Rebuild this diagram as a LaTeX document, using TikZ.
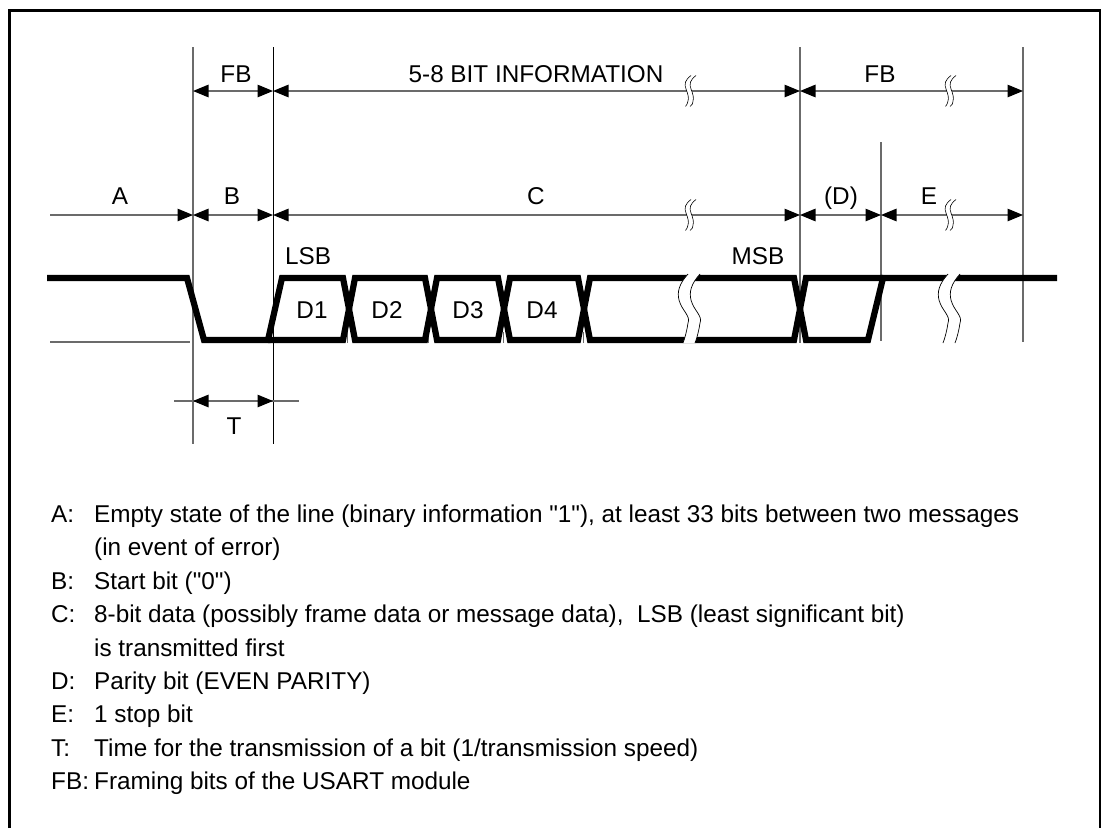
\documentclass[tikz,border=0pt]{standalone}
\usepackage{fontspec}
\setmainfont{Liberation Sans}[Ligatures=TeXOff]
\usetikzlibrary{arrows.meta}
\definecolor{dimgray}{gray}{0.42}
\tikzset{
  tipb/.tip={Triangle[length=15.5pt,width=12.5pt,black]},
  guide/.style={line width=1.1pt,draw=dimgray},
  guideblack/.style={line width=0.9pt,draw=black},
  dimline/.style={line width=1.2pt,draw=dimgray},
  dimboth/.style={dimline,{tipb}-{tipb}},
  dimend/.style={dimline,-{tipb}},
  signal/.style={line width=6.2pt,draw=black,line join=miter,miter limit=10},
  frameline/.style={line width=3pt,draw=black},
  hair/.style={line width=0.5pt,draw=dimgray},
  lbl/.style={anchor=base,inner sep=0pt,font=\fontsize{24.3}{28}\selectfont},
  leg/.style={anchor=base west,inner sep=0pt,font=\fontsize{24.3}{28}\selectfont},
  bigbreak/.pic={
    \fill[white] (0,0) .. controls (-9,10) and (-11,18) .. (-9,26) .. controls (-6,37) and (3,42) .. (0,49) .. controls (-1,56) and (-3,64) .. (-5,69)
      -- (7,69) .. controls (9,64) and (11,56) .. (12,49) .. controls (15,42) and (6,37) .. (3,26) .. controls (1,18) and (3,10) .. (12,0) -- cycle;
    \draw[line width=0.7pt] (0,0) .. controls (-9,10) and (-11,18) .. (-9,26) .. controls (-6,37) and (3,42) .. (0,49) .. controls (-1,56) and (-3,64) .. (-5,69);
    \draw[line width=0.7pt] (12,0) .. controls (3,10) and (1,18) .. (3,26) .. controls (6,37) and (15,42) .. (12,49) .. controls (11,56) and (9,64) .. (7,69);
  },
  smallbreak/.pic={
    \fill[white] (2,-15.5) .. controls (-4,-11) and (-5,-7) .. (-3,-2) .. controls (-1,3) and (0,7) .. (-1,10) .. controls (-1.5,12) and (-2,14) .. (-3.5,15.5)
      -- (1,15.5) .. controls (3.5,14) and (4,12) .. (4,10) .. controls (5,7) and (4,3) .. (2,-2) .. controls (0,-7) and (1,-11) .. (7,-15.5) -- cycle;
    \draw[line width=0.6pt] (2,-15.5) .. controls (-4,-11) and (-5,-7) .. (-3,-2) .. controls (-1,3) and (0,7) .. (-1,10) .. controls (-1.5,12) and (-2,14) .. (-3.5,15.5);
    \draw[line width=0.6pt] (7,-15.5) .. controls (1,-11) and (0,-7) .. (2,-2) .. controls (4,3) and (5,7) .. (4,10) .. controls (4,12) and (3.5,14) .. (1,15.5);
  }
}
\begin{document}
\begin{tikzpicture}[x=1pt,y=-1pt]
\useasboundingbox (0,0) rectangle (1101,828);
\draw[frameline] (9,828) -- (9,10) -- (1100,10) -- (1100,828);

% named levels and guides
\coordinate (v1) at (193,47);
\coordinate (v2) at (273,47);
\coordinate (v3) at (800,47);
\coordinate (v4) at (881,142);
\coordinate (v5) at (1023,47);
\coordinate (v1b) at (193,444);
\coordinate (v2b) at (273,444);
\coordinate (v3b) at (800,343);
\coordinate (v4b) at (881,341);
\coordinate (v5b) at (1023,342);
\coordinate (r1) at (0,91);
\coordinate (r2) at (0,215);
\coordinate (r3) at (0,401);
\coordinate (af) at (50,215);
\coordinate (tl) at (174,401);
\coordinate (tr) at (299,401);
\coordinate (la) at (50,342);
\coordinate (lb) at (190,342);

\draw[guide] (v1) -- (v1b);
\draw[guideblack] (v2) -- (v2b);
\draw[guide] (v3) -- (v3b);
\draw[guide] (v4) -- (v4b);
\draw[guide] (v5) -- (v5b);
\draw[dimline] (la) -- (lb);

% hairlines at crossings
\foreach \hx in {347,428,503,583} \draw[hair] (\hx,332) -- (\hx,343);

% signal
\draw[signal] (47,278) -- (187,278) -- (204,340) -- (268,340) -- (282,278) -- (343,278) -- (355,340) -- (425,340) -- (437,278) -- (498,278) -- (510,340) -- (578,340) -- (590,278) -- (794,278) -- (806,340) -- (868,340) -- (883,278) -- (1057,278);
\draw[signal] (268,340) -- (343,340) -- (355,278) -- (425,278) -- (437,340) -- (498,340) -- (510,278) -- (578,278) -- (590,340) -- (794,340) -- (806,278) -- (883,278);

% dimension lines
\draw[dimboth] (v1|-r1) -- (v2|-r1);
\draw[dimboth] (v2|-r1) -- (v3|-r1);
\draw[dimboth] (v3|-r1) -- (v5|-r1);
\draw[dimend] (af) -- (v1|-r2);
\draw[dimboth] (v1|-r2) -- (v2|-r2);
\draw[dimboth] (v2|-r2) -- (v3|-r2);
\draw[dimboth] (v3|-r2) -- (v4|-r2);
\draw[dimboth] (v4|-r2) -- (v5|-r2);
\draw[dimline] (tl) -- (tr);
\draw[dimboth] (v1|-r3) -- (v2|-r3);

% breaks
\pic at (688,274) {bigbreak};
\pic at (948,274) {bigbreak};
\pic at (689,91) {smallbreak};
\pic at (949,91) {smallbreak};
\pic at (689,215) {smallbreak};
\pic at (949,215) {smallbreak};

% labels
\node[lbl] (tfb1) at (236,82) {FB};
\node[lbl] (tinfo) at (536,82) {5-8 BIT INFORMATION};
\node[lbl] (tfb2) at (880,82) {FB};
\node[lbl] (ta) at (120,204) {A};
\node[lbl] (tb) at (232,204) {B};
\node[lbl] (tc) at (536,204) {C};
\node[lbl] (td) at (841,204) {(D)};
\node[lbl] (te) at (929,204) {E};
\node[lbl] (tlsb) at (308,264) {LSB};
\node[lbl] (tmsb) at (758,264) {MSB};
\node[lbl] (d1) at (312,318) {D1};
\node[lbl] (d2) at (387,318) {D2};
\node[lbl] (d3) at (468,318) {D3};
\node[lbl] (d4) at (542,318) {D4};
\node[lbl] (tt) at (234,434) {T};

% legend
\node[leg] (l1) at (51,522) {A:};
\node[leg] (x1) at (94,522) {Empty state of the line (binary information "1"), at least 33 bits between two messages};
\node[leg] (x1b) at (94,555) {(in event of error)};
\node[leg] (l2) at (51,589) {B:};
\node[leg] (x2) at (94,589) {Start bit ("0")};
\node[leg] (l3) at (51,622) {C:};
\node[leg] (x3) at (94,622) {8-bit data (possibly frame data or message data),\hspace{0.28em}\ LSB (least significant bit)};
\node[leg] (x3b) at (94,656) {is transmitted first};
\node[leg] (l4) at (51,689) {D:};
\node[leg] (x4) at (94,689) {Parity bit (EVEN PARITY)};
\node[leg] (l5) at (51,722) {E:};
\node[leg] (x5) at (94,722) {1 stop bit};
\node[leg] (l6) at (51,756) {T:};
\node[leg] (x6) at (94,756) {Time for the transmission of a bit (1/transmission speed)};
\node[leg] (l7) at (51,789) {FB:};
\node[leg] (x7) at (94,789) {Framing bits of the USART module};
\end{tikzpicture}
\end{document}
